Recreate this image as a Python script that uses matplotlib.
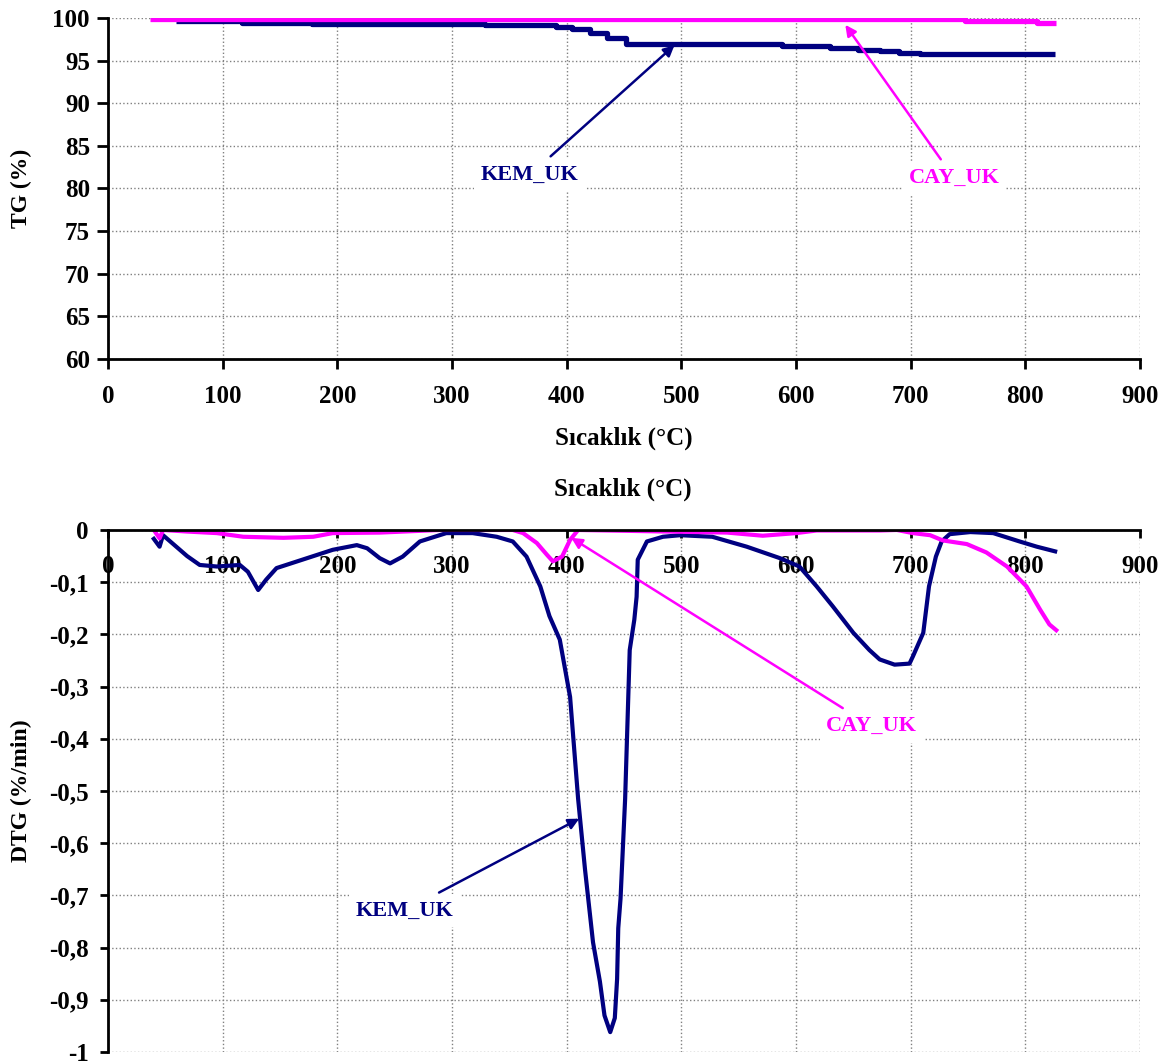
import matplotlib
matplotlib.use("Agg")
import matplotlib.pyplot as plt
from matplotlib.ticker import FuncFormatter, MultipleLocator

plt.rcParams['font.family'] = ['Liberation Serif', 'DejaVu Serif']
plt.rcParams['font.weight'] = 'bold'
plt.rcParams['axes.labelweight'] = 'bold'
plt.rcParams['font.size'] = 18

NAVY = '#000080'
MAGENTA = '#FF00FF'

# TG (%) - step-like curves
tg_kem_t = [59, 117, 178, 224, 329, 391, 405, 420, 435, 452, 588, 630, 654, 673, 690, 708, 826]
tg_kem_v = [99.6, 99.45, 99.3, 99.25, 99.15, 99.0, 98.7, 98.2, 97.6, 97.0, 96.75, 96.5, 96.3, 96.1, 95.95, 95.75, 95.75]
tg_cay_t = [37, 747, 810, 827]
tg_cay_v = [99.9, 99.65, 99.45, 99.45]

# DTG (%/min)
dtg_kem_t = [40, 45, 48, 69, 80, 95, 115, 122, 131, 138, 147, 161, 182, 196, 217, 226, 237, 246,
             257, 272, 295, 318, 339, 353, 365, 377, 385, 394, 403, 410, 416, 423, 429, 433, 438,
             442, 444, 445, 447, 451, 455, 459, 461, 462, 470, 484, 499, 527, 557, 586, 603, 618,
             632, 650, 664, 673, 686, 699, 702, 711, 716, 722, 727, 734, 752, 772, 795, 810, 826]
dtg_kem_v = [-0.017, -0.032, -0.01, -0.05, -0.067, -0.07, -0.067, -0.08, -0.115, -0.095, -0.073,
             -0.063, -0.048, -0.038, -0.029, -0.035, -0.054, -0.064, -0.051, -0.022, -0.006, -0.006,
             -0.013, -0.022, -0.051, -0.108, -0.165, -0.21, -0.32, -0.515, -0.65, -0.79, -0.865,
             -0.93, -0.962, -0.935, -0.86, -0.763, -0.706, -0.515, -0.23, -0.172, -0.128, -0.057,
             -0.022, -0.013, -0.01, -0.013, -0.032, -0.054, -0.07, -0.108, -0.146, -0.197, -0.23,
             -0.248, -0.258, -0.256, -0.242, -0.197, -0.108, -0.051, -0.022, -0.008, -0.004,
             -0.006, -0.022, -0.032, -0.041]
dtg_cay_t = [40, 45, 48, 69, 95, 118, 153, 179, 196, 237, 289, 353, 362, 374, 383, 388, 396, 403,
             410, 540, 571, 600, 618, 673, 688, 702, 717, 728, 749, 766, 784, 801, 813, 821, 827]
dtg_cay_v = [0.0, -0.016, 0.0, -0.003, -0.006, -0.013, -0.015, -0.013, -0.006, -0.005, 0.0, 0.0,
             -0.006, -0.025, -0.048, -0.06, -0.051, -0.019, 0.0, -0.005, -0.011, -0.006, -0.001,
             -0.001, 0.0, -0.006, -0.01, -0.02, -0.027, -0.043, -0.07, -0.108, -0.153, -0.181,
             -0.192]

fig = plt.figure(figsize=(11.66, 10.64), dpi=100)
ax1 = fig.add_axes([0.0926, 0.6626, 0.8851, 0.3205])
ax2 = fig.add_axes([0.0926, 0.0113, 0.8851, 0.4906])

grid_kw = dict(color='#808080', linestyle=':', linewidth=1.0)

# ---- top: TG
ax1.plot(tg_kem_t, tg_kem_v, color=NAVY, lw=3.8, drawstyle='steps-post', solid_capstyle='butt')
ax1.plot(tg_cay_t, tg_cay_v, color=MAGENTA, lw=3.8, drawstyle='steps-post', solid_capstyle='butt')
ax1.set_xlim(0, 900)
ax1.set_ylim(60, 100)
ax1.xaxis.set_major_locator(MultipleLocator(100))
ax1.yaxis.set_major_locator(MultipleLocator(5))
ax1.grid(True, **grid_kw)
ax1.set_axisbelow(True)
for s in ['top', 'right']:
    ax1.spines[s].set_visible(False)
for s in ['left', 'bottom']:
    ax1.spines[s].set_linewidth(2)
ax1.tick_params(axis='x', length=7, width=2, pad=12)
ax1.tick_params(axis='y', length=8, width=2, pad=5)
ax1.set_ylabel('TG (%)', fontsize=17, fontweight='bold')
ax1.yaxis.set_label_coords(-0.074, 0.5)
ax1.text(0.5, -0.232, 'Sıcaklık (°C)', transform=ax1.transAxes, ha='center', va='center', fontsize=18)

box = dict(boxstyle='square,pad=0.3', fc='white', ec='none')
ax1.annotate('KEM_UK', xy=(494, 96.8), xytext=(368, 81.6), color=NAVY, fontsize=16,
             ha='center', va='center', bbox=box,
             arrowprops=dict(arrowstyle='-|>', color=NAVY, lw=1.8, mutation_scale=16, shrinkB=0))
ax1.annotate('CAY_UK', xy=(643, 99.2), xytext=(738, 81.2), color=MAGENTA, fontsize=16,
             ha='center', va='center', bbox=box,
             arrowprops=dict(arrowstyle='-|>', color=MAGENTA, lw=1.8, mutation_scale=16, shrinkB=0))

# ---- bottom: DTG
ax2.plot(dtg_kem_t, dtg_kem_v, color=NAVY, lw=3.0)
ax2.plot(dtg_cay_t, dtg_cay_v, color=MAGENTA, lw=3.0)
ax2.set_xlim(0, 900)
ax2.set_ylim(-1, 0)
ax2.xaxis.set_major_locator(MultipleLocator(100))
ax2.yaxis.set_major_locator(MultipleLocator(0.1))


def comma_fmt(v, pos):
    if abs(v) < 1e-9:
        return '0'
    return ('%g' % round(v, 1)).replace('.', ',')


ax2.yaxis.set_major_formatter(FuncFormatter(comma_fmt))
ax2.grid(True, **grid_kw)
ax2.set_axisbelow(True)
ax2.spines['bottom'].set_position(('data', 0))
ax2.spines['top'].set_visible(False)
ax2.spines['right'].set_visible(False)
for s in ['left', 'bottom']:
    ax2.spines[s].set_linewidth(2)
ax2.tick_params(axis='x', length=6, width=2, pad=12)
ax2.tick_params(axis='y', length=6, width=2, pad=8)
ax2.set_ylabel('DTG (%/min)', fontsize=17, fontweight='bold')
ax2.yaxis.set_label_coords(-0.074, 0.5)
fig.text(0.5345, 1 - 489 / 1064, 'Sıcaklık (°C)', ha='center', va='center', fontsize=18)

ax2.annotate('KEM_UK', xy=(411, -0.553), xytext=(259, -0.729), color=NAVY, fontsize=16,
             ha='center', va='center', bbox=box,
             arrowprops=dict(arrowstyle='-|>', color=NAVY, lw=1.8, mutation_scale=16, shrinkB=0))
ax2.annotate('CAY_UK', xy=(404, -0.015), xytext=(666, -0.376), color=MAGENTA, fontsize=16,
             ha='center', va='center', bbox=box,
             arrowprops=dict(arrowstyle='-|>', color=MAGENTA, lw=1.8, mutation_scale=16, shrinkB=0))

fig.savefig('out.png', dpi=100)
